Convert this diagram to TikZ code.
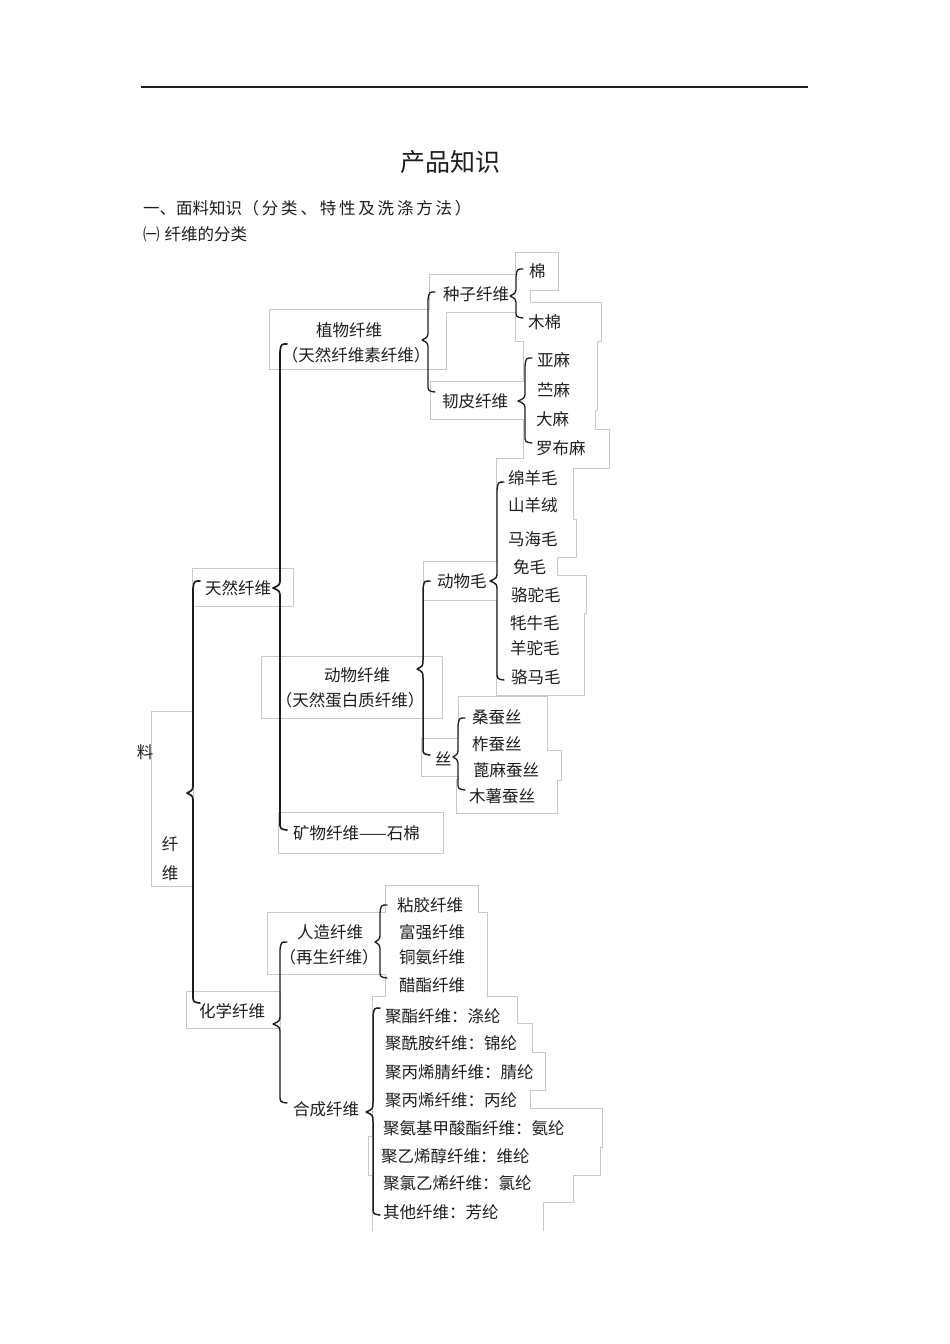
\documentclass[tikz,border=0pt]{standalone}
\usepackage{fontspec}
\setmainfont{Noto Sans CJK SC}
\definecolor{boxgray}{RGB}{200,200,200}
\definecolor{ink}{RGB}{30,30,30}
\newcommand\mybrace[6]{% x, top, bottom, tip, amp, width
  \draw[ink, line width=#6, line cap=round, line join=round]
    (#1+7,#2) .. controls (#1+1,#2) .. (#1,#2+8)
    -- (#1,#4-10) .. controls (#1,#4-3) .. (#1-#5,#4)
    .. controls (#1,#4+3) .. (#1,#4+10)
    -- (#1,#3-8) .. controls (#1,#3-1) .. (#1+7,#3);}
\def\boxlist{516/253/558/290, 516/290/530/303, 516/303/601/341,
  430/275/516/312, 270/310/446/369, 431/382/524/419,
  524/341/597/410, 524/410/595/430, 524/430/609/468,
  497/459/573/520, 497/520/576/557, 497/557/557/576, 497/576/586/613, 497/613/584/695,
  424/562/499/600, 262/657/442/718, 422/739/459/776,
  459/697/547/751, 459/751/561/780, 457/780/557/813,
  279/813/443/853, 193/569/293/606, 152/712/193/886,
  187/992/280/1028, 268/913/386/974, 386/886/478/913, 386/913/487/997,
  373/997/517/1024, 373/1024/532/1053, 373/1053/545/1090, 373/1090/530/1109,
  373/1109/602/1147, 369/1137/380/1175, 373/1147/600/1175, 373/1175/573/1202,
  373/1202/543/1232}
\tikzset{
  lbl/.style={inner sep=0pt, font=\fontsize{16.5}{18}\selectfont, text=ink},
  lw/.style={lbl, anchor=west},
  hdr/.style={inner sep=0pt, font=\fontsize{16.5}{18}\selectfont, text=ink, anchor=west}
}
\begin{document}
\begin{tikzpicture}[x=1pt,y=-1pt]
\useasboundingbox (0,0) rectangle (950,1344);
\fill[white] (0,0) rectangle (950,1344);
% header
\draw[ink, line width=1.3] (141,87) -- (808,87);
\node[inner sep=0pt, font=\fontsize{25}{28}\selectfont, text=ink] (title) at (450,162) {产品知识};
\node[hdr] (h1a) at (143,208) {一、面料知识};
\node[hdr, font=\fontsize{16.5}{18}\selectfont\addfontfeature{LetterSpace=17}] (h1b) at (h1a.east) {（分类、特性及洗涤方法）};
\node[hdr] (h2) at (143,234) {㈠\hspace{5pt}纤维的分类};
% text boxes (union outline)
\foreach \a/\b/\c/\d in \boxlist { \draw[boxgray, line width=2pt] (\a,\b) rectangle (\c,\d); }
\foreach \a/\b/\c/\d in \boxlist { \fill[white] (\a,\b) rectangle (\c,\d); }
\fill[white] (370,1231) rectangle (545,1235);
% braces
\mybrace{193}{581}{1003}{793}{6}{1.7pt}
\mybrace{280}{344}{830}{588}{7}{1.7pt}
\mybrace{428}{292}{392}{340}{6}{1.3pt}
\mybrace{516}{269}{318}{296}{6}{1.3pt}
\mybrace{525}{358}{443}{401}{7}{1.3pt}
\mybrace{423}{581}{755}{669}{6}{1.5pt}
\mybrace{497}{482}{680}{581}{7}{1.4pt}
\mybrace{458}{718}{790}{757}{5}{1.3pt}
\mybrace{280}{942}{1103}{1024}{7}{1.4pt}
\mybrace{380}{905}{978}{942}{5}{1.3pt}
\mybrace{373}{1008}{1215}{1112}{7}{1.5pt}
% natural fibres
\node[lw] (mian) at (529,271) {棉};
\node[lw] (mumian) at (528,322) {木棉};
\node[lw] (zhongzi) at (443,294) {种子纤维};
\node[lbl] (zhiwu) at (349,330) {植物纤维};
\node[lbl] (zhiwu2) at (356,355) {（天然纤维素纤维）};
\node[lw] (renpi) at (442,401) {韧皮纤维};
\node[lw] (yama) at (537,360) {亚麻};
\node[lw] (zhuma) at (537,390) {苎麻};
\node[lw] (dama) at (536,419) {大麻};
\node[lw] (luobuma) at (536,448) {罗布麻};
\node[lw] (w1) at (508,478) {绵羊毛};
\node[lw] (w2) at (508,505) {山羊绒};
\node[lw] (w3) at (508,539) {马海毛};
\node[lw] (w4) at (513,567) {免毛};
\node[lw] (w5) at (511,595) {骆驼毛};
\node[lw] (w6) at (510,623) {牦牛毛};
\node[lw] (w7) at (510,648) {羊驼毛};
\node[lw] (w8) at (511,677) {骆马毛};
\node[lw] (dongwumao) at (437,581) {动物毛};
\node[lbl] (dongwu) at (357,675) {动物纤维};
\node[lbl] (dongwu2) at (350,700) {（天然蛋白质纤维）};
\node[lw] (si) at (435,759) {丝};
\node[lw] (s1) at (472,717) {桑蚕丝};
\node[lw] (s2) at (472,744) {柞蚕丝};
\node[lw] (s3) at (473,770) {蓖麻蚕丝};
\node[lw] (s4) at (469,796) {木薯蚕丝};
\node[lw] (kuangwu) at (293,833) {矿物纤维——石棉};
\node[lw] (tianran) at (205,588) {天然纤维};
% root
\node[lbl] (liao) at (145,752) {料};
\node[lbl] (xian) at (170,844) {纤};
\node[lbl] (wei) at (170,873) {维};
% chemical fibres
\node[lbl] (renzao) at (330,932) {人造纤维};
\node[lbl] (renzao2) at (329,957) {（再生纤维）};
\node[lw] (r1) at (397,905) {粘胶纤维};
\node[lw] (r2) at (399,932) {富强纤维};
\node[lw] (r3) at (399,957) {铜氨纤维};
\node[lw] (r4) at (399,985) {醋酯纤维};
\node[lw] (huaxue) at (199,1011) {化学纤维};
\node[lw] (hecheng) at (293,1109) {合成纤维};
\node[lw] (c1) at (385,1016) {聚酯纤维：涤纶};
\node[lw] (c2) at (385,1043) {聚酰胺纤维：锦纶};
\node[lw] (c3) at (385,1072) {聚丙烯腈纤维：腈纶};
\node[lw] (c4) at (385,1100) {聚丙烯纤维：丙纶};
\node[lw] (c5) at (383,1128) {聚氨基甲酸酯纤维：氨纶};
\node[lw] (c6) at (381,1156) {聚乙烯醇纤维：维纶};
\node[lw] (c7) at (383,1183) {聚氯乙烯纤维：氯纶};
\node[lw] (c8) at (383,1212) {其他纤维：芳纶};
\end{tikzpicture}
\end{document}
